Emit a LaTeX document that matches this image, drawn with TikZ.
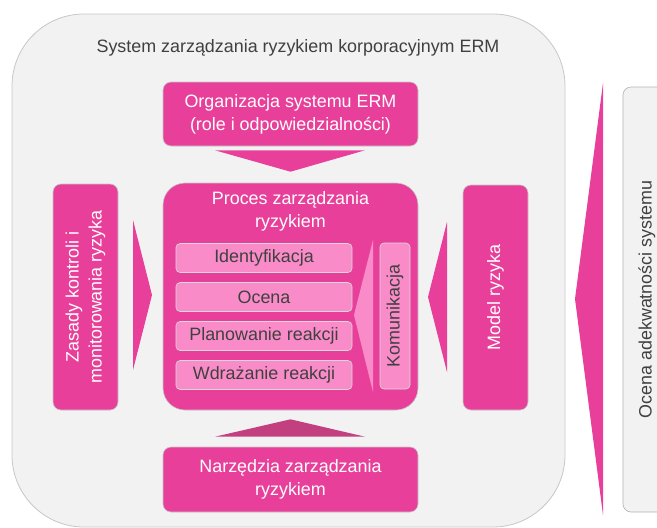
\documentclass[tikz,border=0pt]{standalone}
\usepackage{fontspec}
\setmainfont{Liberation Sans}
\usepackage{xcolor}
\usetikzlibrary{calc}

\definecolor{ermpink}{HTML}{E8409A}
\definecolor{ermlight}{HTML}{F98CC8}
\definecolor{ermdark}{HTML}{C2407F}
\definecolor{ermgray}{HTML}{F2F2F2}
\definecolor{ermtext}{HTML}{404040}

\begin{document}
\begin{tikzpicture}[x=1pt, y=-1pt,
    txt/.style = {font=\fontsize{17.9}{23}\selectfont, align=center, inner sep=0pt},
    box/.style = {txt, rectangle, rounded corners=8pt,
        fill=ermpink, draw=black!22, line width=0.6pt, text=white},
    krok/.style = {txt, rectangle, rounded corners=4pt,
        fill=ermlight, draw=black!15, line width=0.6pt, text=ermtext,
        minimum width=176pt, minimum height=29pt}]

\useasboundingbox (0,0) rectangle (657,528);
\clip (0,0) rectangle (657,528);

% System frame
\draw[fill=ermgray, draw=black!22, line width=0.8pt, rounded corners=72pt]
    (12,14) rectangle (565,527);
\node[txt, text=ermtext] (systitle) at (298,48)
    {System zarządzania ryzykiem korporacyjnym ERM};

% Outer boxes
\node[box, minimum width=255pt, minimum height=64pt] (org) at (290.5,114)
    {Organizacja systemu ERM\\(role i odpowiedzialności)};
\node[box, minimum width=255pt, minimum height=65pt] (narz) at (290.5,479.5)
    {Narzędzia zarządzania\\ryzykiem};
\node[box, rotate=90, minimum width=226pt, minimum height=65pt] (zas) at (85.5,297)
    {Zasady kontroli i\\monitorowania ryzyka};
\node[box, rotate=90, minimum width=225pt, minimum height=65pt] (model) at (495.5,297.5)
    {Model ryzyka};

% Risk process
\node[box, rounded corners=22pt, minimum width=255pt, minimum height=227pt] (proc) at (290.5,296.5) {};
\node[txt, text=white] (proctitle) at (290.5,211) {Proces zarządzania\\ryzykiem};

\node[krok] (ident) at (264,258) {Identyfikacja};
\node[krok] (ocena) at (264,297) {Ocena};
\node[krok] (plan) at (264,336) {Planowanie reakcji};
\node[krok] (wdr) at (264,375) {Wdrażanie reakcji};
\node[krok, rotate=90, minimum width=146pt, minimum height=30pt] (kom) at (395,316) {Komunikacja};

\fill[ermlight] ($(kom.center)+(-22,-76)$) -- ($(kom.center)+(-22,76)$)
    -- ($(kom.center)+(-41,-1)$) -- cycle;

% Arrows into the process
\fill[ermpink] ($(org.south)+(-75.5,4)$) -- ($(org.south)+(74.5,4)$)
    -- ($(proc.north)+(0,-11)$) -- cycle;
\fill[ermdark] ($(narz.north)+(-75.5,-10)$) -- ($(narz.north)+(74.5,-10)$)
    -- ($(proc.south)+(0,9)$) -- cycle;
\fill[ermpink] ($(zas.center)+(47.5,-77)$) -- ($(zas.center)+(47.5,73)$)
    -- ($(zas.center)+(66.5,-2)$) -- cycle;
\fill[ermpink] ($(model.center)+(-48.5,-75.5)$) -- ($(model.center)+(-48.5,74.5)$)
    -- ($(model.center)+(-67.5,-0.5)$) -- cycle;

% System assessment
\node[txt, rectangle, rotate=90, rounded corners=8pt, fill=ermgray, draw=black!30,
    line width=0.6pt, text=ermtext, minimum width=425pt, minimum height=48pt]
    (adekw) at (647,299.5) {Ocena adekwatności systemu};
\fill[ermpink] ($(adekw.center)+(-44,-216.5)$) -- ($(adekw.center)+(-44,215.5)$)
    -- ($(adekw.center)+(-72,-0.5)$) -- cycle;
\end{tikzpicture}
\end{document}
